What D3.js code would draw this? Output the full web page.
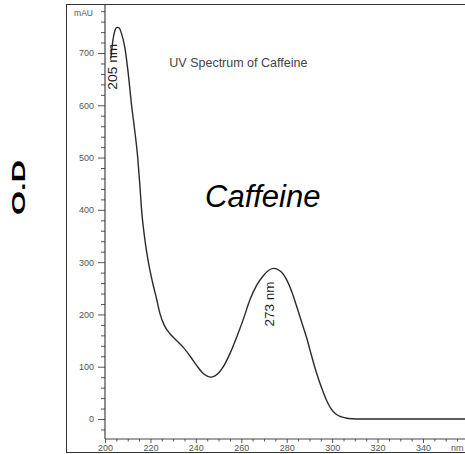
<!DOCTYPE html>
<html><head><meta charset="utf-8">
<script src="https://cdn.jsdelivr.net/npm/d3@7"></script>
<style>
html,body{margin:0;padding:0;background:#fff;}
svg{display:block;font-family:"Liberation Sans",Arial,sans-serif;}
</style></head>
<body>
<svg id="c" width="465" height="454"></svg>
<script>
// Data
const wavelengths = [202.6,203.4,204.3,205.3,206.2,207.2,208.8,210.2,211.7,213.0,214.4,215.3,216.1,217.5,219.1,220.9,222.7,224.3,226.0,228.6,231.5,234.5,237.5,240.4,242.8,245.0,246.5,248.2,250.2,252.1,255.0,258.0,261.0,263.8,266.8,269.7,272.3,274.5,276.8,278.5,280.0,282.2,284.4,286.6,288.8,291.0,293.2,295.5,297.5,299.5,301.5,303.5,306.0,309.0,312.0,330.0,360.0];
const absorbance  = [690,722,742,749,748,738,709,662,600,555,500,450,400,345,300,262,230,200,180,163,150,137,120,102,89,82,80,82,89,100,125,157,192,228,256,274,285,288,284,277,266,244,215,185,155,120,87,58,36,20,10,5,2,0.5,0,0,0];
const xMajorTicks = [200,220,240,260,280,300,320,340];
const yMajorTicks = [0,100,200,300,400,500,600,700];
const peakLabels = ["205 nm","273 nm"];
const titleText = "UV Spectrum of Caffeine";
const compoundText = "Caffeine";
const yTitle = "O.D";

const svg = d3.select("#c");
const x = d3.scaleLinear().domain([200,340]).range([105,423]);
const y = d3.scaleLinear().domain([0,700]).range([419,53]);

// frame
svg.append("rect").attr("x",66.5).attr("y",4.5).attr("width",500).attr("height",448)
  .attr("fill","none").attr("stroke","#333").attr("stroke-width",1);

// y axis
const yMinor = d3.range(-20,781,20).filter(v=>v%100!==0);
const gy = svg.append("g").attr("transform","translate(105,0)");
gy.call(d3.axisLeft(y).tickValues(yMajorTicks).tickSize(7).tickFormat(d3.format("d")));
gy.select(".domain").remove();
const gy2 = svg.append("g").attr("transform","translate(105,0)");
gy2.call(d3.axisLeft(y).tickValues(yMinor).tickSize(4).tickFormat(""));
gy2.select(".domain").remove();
svg.append("line").attr("x1",105).attr("x2",105).attr("y1",5).attr("y2",439).attr("stroke","#444").attr("stroke-width",1.2);

// x axis
const xMinor = d3.range(205,360,5).filter(v=>v%20!==0);
const gx = svg.append("g").attr("transform","translate(0,439)");
gx.call(d3.axisBottom(x).tickValues(xMajorTicks).tickSize(4).tickFormat(d3.format("d")));
gx.select(".domain").remove();
const gx2 = svg.append("g").attr("transform","translate(0,439)");
gx2.call(d3.axisBottom(x).tickValues(xMinor).tickSize(2.5).tickFormat(""));
gx2.select(".domain").remove();
svg.append("line").attr("x1",105).attr("x2",465).attr("y1",439).attr("y2",439).attr("stroke","#444").attr("stroke-width",1.2);

svg.selectAll(".tick line").attr("stroke","#555");
gy.selectAll(".tick text").attr("x",-11).attr("font-size",9).attr("fill","#555").attr("font-family","Liberation Sans, Arial, sans-serif");
gx.selectAll(".tick text").attr("y",6).attr("font-size",9).attr("fill","#555").attr("font-family","Liberation Sans, Arial, sans-serif");

// unit labels
svg.append("text").attr("x",93).attr("y",16).attr("text-anchor","end").attr("font-size",8.5).attr("fill","#555").text("mAU");
svg.append("text").attr("x",451).attr("y",451.4).attr("font-size",9).attr("fill","#555").text("nm");

// curve
const pts = wavelengths.map((w,i)=>[w,absorbance[i]]);
const line = d3.line().x(d=>x(d[0])).y(d=>y(d[1])).curve(d3.curveMonotoneX);
svg.append("path").datum(pts).attr("d",line).attr("fill","none").attr("stroke","#2a2a2a").attr("stroke-width",1.4);

// peak labels
svg.append("text").attr("transform","translate(116.7,66.7) rotate(-90)").attr("text-anchor","middle")
  .attr("font-size",12).attr("fill","#222").attr("textLength",46).attr("lengthAdjust","spacingAndGlyphs").text(peakLabels[0]);
svg.append("text").attr("transform","translate(274,304) rotate(-90)").attr("text-anchor","middle")
  .attr("font-size",12).attr("fill","#222").attr("textLength",45).attr("lengthAdjust","spacingAndGlyphs").text(peakLabels[1]);

// titles
svg.append("text").attr("x",169.3).attr("y",67).attr("font-size",12.5).attr("fill","#444").text(titleText);
svg.append("text").attr("x",205).attr("y",206.7).attr("font-size",31).attr("font-style","italic").attr("fill","#000").text(compoundText);
svg.append("text").attr("transform","translate(25,187.5) rotate(-90)").attr("text-anchor","middle")
  .attr("font-size",18.5).attr("font-weight","bold").attr("fill","#000")
  .attr("textLength",55).attr("lengthAdjust","spacingAndGlyphs").text(yTitle);
</script>
</body></html>
